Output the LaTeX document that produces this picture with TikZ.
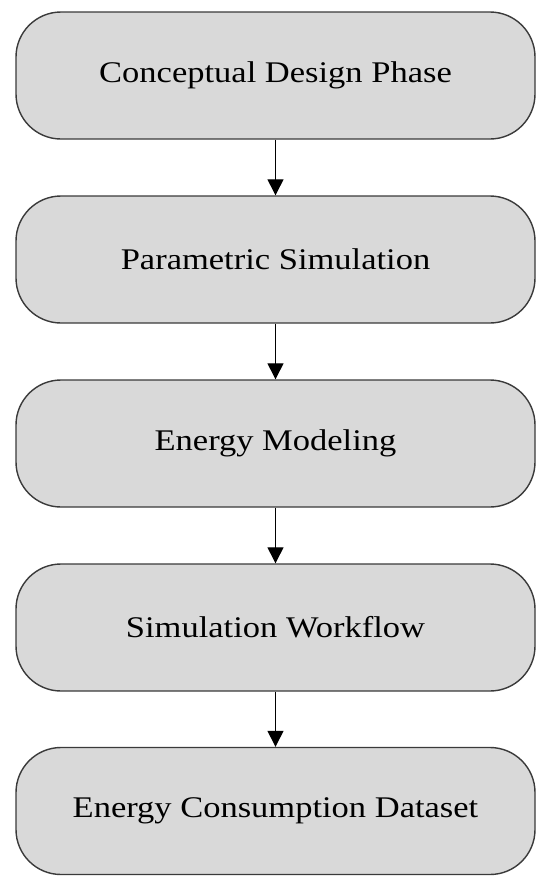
\documentclass[tikz,border=0pt]{standalone}
\usepackage{fontspec}
\setmainfont{Liberation Serif}[FakeStretch=1.15]
\usetikzlibrary{arrows.meta}
\definecolor{boxfill}{HTML}{D9D9D9}
\definecolor{boxline}{HTML}{3A3A3A}
\tikzset{
  stagebox/.style={draw=boxline, line width=1.4pt, fill=boxfill, rounded corners=45pt,
    minimum width=519pt, minimum height=127pt, inner sep=0pt, font=\fontsize{30}{34}\selectfont},
  flowarrow/.style={line width=1.3pt, -{Triangle[width=16pt,length=16pt]}}
}
\begin{document}
\begin{tikzpicture}[x=1pt,y=-1pt]
\useasboundingbox (0,0) rectangle (550,887);
\node[stagebox] (a) at (275.5,75.5) {Conceptual Design Phase};
\node[stagebox] (b) at (275.5,259.5) {Parametric Simulation};
\node[stagebox] (c) at (275.5,443.5) {Energy Modeling};
\node[stagebox] (d) at (275.5,627.5) {Simulation Workflow};
\node[stagebox] (e) at (275.5,811) {Energy Consumption Dataset};
\draw[flowarrow] (a) -- (b);
\draw[flowarrow] (b) -- (c);
\draw[flowarrow] (c) -- (d);
\draw[flowarrow] (d) -- (e);
\end{tikzpicture}
\end{document}
